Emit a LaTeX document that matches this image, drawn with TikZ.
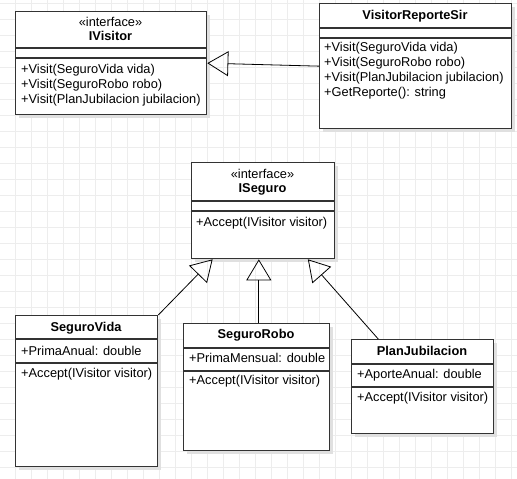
\documentclass[tikz,border=0pt]{standalone}
\usepackage{fontspec}
\setmainfont{Liberation Sans}
\usetikzlibrary{arrows.meta,shadows,calc}

\begin{document}
\begin{tikzpicture}[x=1pt, y=-1pt,
    every node/.style={font=\fontsize{12.8}{15}\selectfont},
    gridline/.style={draw=black!7, line width=0.6pt},
    classbox/.style={draw=black!80, line width=1.3pt, fill=white, anchor=north west, inner sep=0pt,
        drop shadow={shadow xshift=3pt, shadow yshift=-3pt, fill=black!12, opacity=1}},
    divider/.style={draw=black!80, line width=1.3pt},
    member/.style={anchor=west, inner sep=0pt},
    classname/.style={inner sep=0pt, font=\fontsize{12.8}{15}\selectfont\bfseries},
    realizes/.style={-{Triangle[open, length=21pt, width=25pt]}, line width=0.8pt}]
        \useasboundingbox (0,0) rectangle (517,479);
        \fill [white] (0,0) rectangle (517,479);
        \foreach \gx in {1,...,32}
            \draw [gridline] (16*\gx-0.3,0) -- (16*\gx-0.3,479);
        \foreach \gy in {0,...,29}
            \draw [gridline] (0,16*\gy+3) -- (517,16*\gy+3);

        % IVisitor
        \node [classbox, minimum width=191pt, minimum height=103pt] (ivisitor) at (15,11) {};
        \node [inner sep=0pt] (ivisitorstereo) at (110.5,22) {«interface»};
        \node [classname] (ivisitorname) at (110.5,36) {IVisitor};
        \draw [divider] ($(ivisitor.north west)+(0,37)$) -- ($(ivisitor.north east)+(0,37)$);
        \draw [divider] ($(ivisitor.north west)+(0,47)$) -- ($(ivisitor.north east)+(0,47)$);
        \node [member] (ivisitorvida) at (21,70) {+Visit(SeguroVida vida)};
        \node [member] (ivisitorrobo) at (21,85) {+Visit(SeguroRobo robo)};
        \node [member] (ivisitorplan) at (21,100) {+Visit(PlanJubilacion jubilacion)};

        % VisitorReporteSir
        \node [classbox, minimum width=192pt, minimum height=125pt] (vrs) at (319,3) {};
        \node [classname] (vrsname) at (415,16) {VisitorReporteSir};
        \draw [divider] ($(vrs.north west)+(0,25)$) -- ($(vrs.north east)+(0,25)$);
        \draw [divider] ($(vrs.north west)+(0,35)$) -- ($(vrs.north east)+(0,35)$);
        \node [member] (vrsvida) at (324,48) {+Visit(SeguroVida vida)};
        \node [member] (vrsrobo) at (324,63) {+Visit(SeguroRobo robo)};
        \node [member] (vrsplan) at (324,78) {+Visit(PlanJubilacion jubilacion)};
        \node [member] (vrsreporte) at (324,93) {+GetReporte(): string};

        % ISeguro
        \node [classbox, minimum width=143pt, minimum height=96pt] (iseguro) at (191,162) {};
        \node [inner sep=0pt] (isegurostereo) at (262.5,174) {«interface»};
        \node [classname] (iseguroname) at (262.5,189) {ISeguro};
        \draw [divider] ($(iseguro.north west)+(0,39)$) -- ($(iseguro.north east)+(0,39)$);
        \draw [divider] ($(iseguro.north west)+(0,49)$) -- ($(iseguro.north east)+(0,49)$);
        \node [member] (iseguroaccept) at (196,223) {+Accept(IVisitor visitor)};

        % SeguroVida
        \node [classbox, minimum width=142pt, minimum height=151pt] (segurovida) at (15,315) {};
        \node [classname] (segurovidaname) at (86,328) {SeguroVida};
        \draw [divider] ($(segurovida.north west)+(0,24)$) -- ($(segurovida.north east)+(0,24)$);
        \draw [divider] ($(segurovida.north west)+(0,48)$) -- ($(segurovida.north east)+(0,48)$);
        \node [member] (segurovidaprima) at (21,351) {+PrimaAnual: double};
        \node [member] (segurovidaaccept) at (21,374) {+Accept(IVisitor visitor)};

        % SeguroRobo
        \node [classbox, minimum width=146pt, minimum height=127pt] (segurorobo) at (183,323) {};
        \node [classname] (seguroroboname) at (256,335) {SeguroRobo};
        \draw [divider] ($(segurorobo.north west)+(0,25)$) -- ($(segurorobo.north east)+(0,25)$);
        \draw [divider] ($(segurorobo.north west)+(0,48)$) -- ($(segurorobo.north east)+(0,48)$);
        \node [member] (seguroroboprima) at (189,358) {+PrimaMensual: double};
        \node [member] (segurorobooaccept) at (189,381) {+Accept(IVisitor visitor)};

        % PlanJubilacion
        \node [classbox, minimum width=142pt, minimum height=94pt] (planjub) at (351,339) {};
        \node [classname] (planjubname) at (422,351) {PlanJubilacion};
        \draw [divider] ($(planjub.north west)+(0,25)$) -- ($(planjub.north east)+(0,25)$);
        \draw [divider] ($(planjub.north west)+(0,48)$) -- ($(planjub.north east)+(0,48)$);
        \node [member] (planjubaporte) at (357,375) {+AporteAnual: double};
        \node [member] (planjubaccept) at (357,398) {+Accept(IVisitor visitor)};

        % realizations
        \coordinate (robotip) at ($(iseguro.south west)!0.47!(iseguro.south east)$);
        \draw [realizes] (vrs.west) -- (ivisitor.east);
        \draw [realizes] (segurovida.north east) -- ($(iseguro.south west)!0.15!(iseguro.south east)$);
        \draw [realizes] (robotip |- segurorobo.north) -- (robotip);
        \draw [realizes] ($(planjub.north west)!0.19!(planjub.north east)$) -- ($(iseguro.south west)!0.81!(iseguro.south east)$);
    \end{tikzpicture}
\end{document}
